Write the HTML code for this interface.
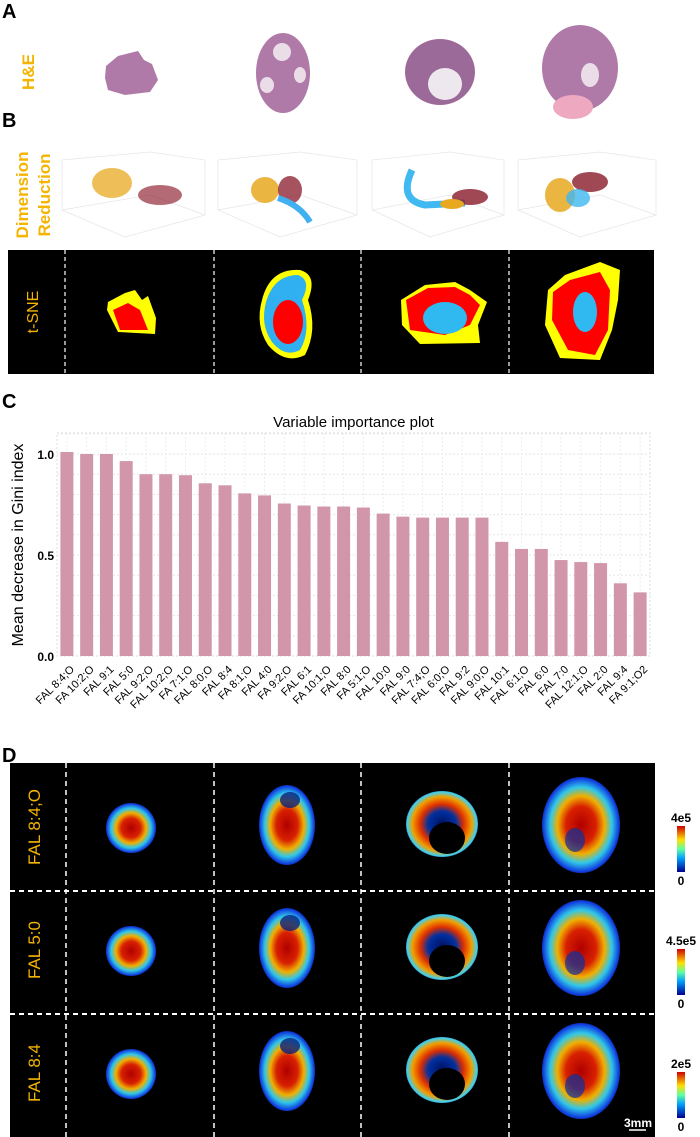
<!DOCTYPE html>
<html><head><meta charset="utf-8"><style>
html,body{margin:0;padding:0;background:#fff;width:700px;height:1137px;overflow:hidden}
svg{display:block;font-family:"Liberation Sans",sans-serif}
</style></head><body>
<svg id="fig" width="700" height="1137" viewBox="0 0 700 1137">
<defs>
<radialGradient id="heat" cx="50%" cy="50%" r="55%">
<stop offset="0" stop-color="#b00000"/><stop offset="0.35" stop-color="#d82000"/><stop offset="0.55" stop-color="#f0b000"/><stop offset="0.72" stop-color="#30c8e8"/><stop offset="0.88" stop-color="#1040e0"/><stop offset="1" stop-color="#000040"/>
</radialGradient>
<radialGradient id="heat2" cx="50%" cy="50%" r="55%">
<stop offset="0" stop-color="#001060"/><stop offset="0.35" stop-color="#0030a0"/><stop offset="0.55" stop-color="#e03000"/><stop offset="0.75" stop-color="#f0a000"/><stop offset="0.88" stop-color="#40d0f0"/><stop offset="1" stop-color="#000040"/>
</radialGradient>
<linearGradient id="cbar" x1="0" y1="1" x2="0" y2="0">
<stop offset="0" stop-color="#00008f"/><stop offset="0.3" stop-color="#00a0ff"/><stop offset="0.5" stop-color="#60ffa0"/><stop offset="0.7" stop-color="#ffe000"/><stop offset="1" stop-color="#d00000"/>
</linearGradient>
</defs>

<!-- Panel A -->
<text x="2" y="18" font-size="20" font-weight="bold">A</text>
<text transform="translate(34,72) rotate(-90)" text-anchor="middle" font-size="17" font-weight="bold" fill="#f5b400">H&amp;E</text>
<g fill="#b07aa8">
<path d="M106,66 L118,56 L138,51 L144,60 L152,64 L158,80 L150,92 L125,95 L108,90 L105,78Z"/>
<ellipse cx="283" cy="73" rx="27" ry="40"/>
<ellipse cx="440" cy="72" rx="35" ry="33" fill="#9c6a98"/>
<ellipse cx="445" cy="84" rx="17" ry="16" fill="#ece8ee"/>
<ellipse cx="580" cy="68" rx="38" ry="43"/>
<ellipse cx="573" cy="107" rx="20" ry="12" fill="#eea8c0"/>
<ellipse cx="282" cy="52" rx="9" ry="9" fill="#eadde8"/><ellipse cx="267" cy="85" rx="7" ry="8" fill="#eadde8"/><ellipse cx="300" cy="75" rx="6" ry="8" fill="#eadde8"/>
<ellipse cx="590" cy="75" rx="9" ry="12" fill="#eadde8"/>
</g>

<!-- Panel B -->
<text x="2" y="127" font-size="20" font-weight="bold">B</text>
<text transform="translate(28,195) rotate(-90)" text-anchor="middle" font-size="17" font-weight="bold" fill="#f5b400">Dimension</text>
<text transform="translate(50,195) rotate(-90)" text-anchor="middle" font-size="17" font-weight="bold" fill="#f5b400">Reduction</text>
<g>
<g><path d="M62,160 L62,210 L125,237 L205,215 M62,210 L150,195 L205,215 M62,160 L150,152 L205,160 L205,215" stroke="#e6e6e6" fill="none" stroke-width="0.7"/>
<ellipse cx="112" cy="183" rx="20" ry="15" fill="#e8a820" opacity="0.75"/><ellipse cx="160" cy="195" rx="22" ry="10" fill="#8a1a2a" opacity="0.65"/></g>
<g><path d="M218,160 L218,210 L280,237 L357,215 M218,210 L300,195 L357,215 M218,160 L300,152 L357,160 L357,215" stroke="#e6e6e6" fill="none" stroke-width="0.7"/>
<ellipse cx="265" cy="190" rx="14" ry="13" fill="#e8a820" opacity="0.85"/><ellipse cx="290" cy="190" rx="12" ry="14" fill="#8a1a2a" opacity="0.75"/><path d="M278,198 Q300,205 310,222" stroke="#40b0f0" stroke-width="6" fill="none"/></g>
<g><path d="M372,160 L372,210 L430,237 L504,215 M372,210 L450,195 L504,215 M372,160 L450,152 L504,160 L504,215" stroke="#e6e6e6" fill="none" stroke-width="0.7"/>
<path d="M412,170 Q398,200 425,205 L465,203" stroke="#40b8f0" stroke-width="7" fill="none"/><ellipse cx="470" cy="197" rx="18" ry="8" fill="#8a1a2a" opacity="0.8"/><ellipse cx="452" cy="204" rx="12" ry="5" fill="#e8a820"/></g>
<g><path d="M518,160 L518,210 L580,237 L656,215 M518,210 L600,195 L656,215 M518,160 L600,152 L656,160 L656,215" stroke="#e6e6e6" fill="none" stroke-width="0.7"/>
<ellipse cx="560" cy="195" rx="15" ry="17" fill="#e8a820" opacity="0.85"/><ellipse cx="590" cy="182" rx="18" ry="10" fill="#8a1a2a" opacity="0.8"/><ellipse cx="578" cy="198" rx="12" ry="9" fill="#40b8f0" opacity="0.8"/></g>
</g>

<rect x="8" y="250" width="646" height="124" fill="#000"/>
<g stroke="#fff" stroke-dasharray="4,3" stroke-width="1.2">
<line x1="65" y1="250" x2="65" y2="374"/><line x1="214" y1="250" x2="214" y2="374"/><line x1="361" y1="250" x2="361" y2="374"/><line x1="509" y1="250" x2="509" y2="374"/>
</g>
<text transform="translate(38,312) rotate(-90)" text-anchor="middle" font-size="16" fill="#f5b400">t-SNE</text>
<g>
<path d="M108,302 L125,293 L135,290 L142,300 L148,296 L156,318 L155,334 L118,332 L107,310Z" fill="#ffff00"/><path d="M113,310 L128,303 L140,310 L148,330 L120,330Z" fill="#f00"/>
<path d="M262,300 Q270,268 300,270 Q318,275 308,300 Q318,330 305,355 Q285,365 268,345 Q255,325 262,300Z" fill="#ffff00"/>
<path d="M266,302 Q274,275 298,275 Q312,280 302,300 Q312,330 300,350 Q285,358 272,342 Q260,325 266,302Z" fill="#30b0f0"/>
<ellipse cx="288" cy="322" rx="15" ry="22" fill="#f00"/>
<path d="M401,300 L425,285 L455,282 L470,290 L487,302 L478,325 L480,343 L420,344 L402,325Z" fill="#ffff00"/>
<path d="M406,300 L428,288 L455,287 L470,295 L480,305 L470,325 L445,335 L410,330Z" fill="#f00"/>
<ellipse cx="445" cy="318" rx="22" ry="16" fill="#30b8f0"/>
<path d="M548,290 L565,275 L600,262 L620,270 L618,300 L612,330 L600,360 L560,358 L545,325Z" fill="#ffff00"/>
<path d="M553,292 L570,280 L600,272 L610,290 L608,330 L595,355 L568,350 L552,320Z" fill="#f00"/>
<ellipse cx="585" cy="312" rx="12" ry="20" fill="#30b8f0"/>
</g>

<!-- Panel C: bar chart -->
<text x="2" y="408" font-size="20" font-weight="bold">C</text>
<g id="chart"></g>

<!-- Panel D -->
<text x="2" y="762" font-size="20" font-weight="bold">D</text>
<rect x="10" y="763" width="645" height="374" fill="#000"/>
<g stroke="#fff" stroke-dasharray="5,4" stroke-width="1.5">
<line x1="66" y1="763" x2="66" y2="1137"/><line x1="214" y1="763" x2="214" y2="1137"/><line x1="361" y1="763" x2="361" y2="1137"/><line x1="509" y1="763" x2="509" y2="1137"/>
<line x1="10" y1="891" x2="655" y2="891" stroke-width="2"/><line x1="10" y1="1014" x2="655" y2="1014" stroke-width="2"/>
</g>
<g id="ion"></g>
<text x="652" y="1127" text-anchor="end" font-size="12" font-weight="bold" fill="#fff">3mm</text>
<line x1="629" y1="1130" x2="646" y2="1130" stroke="#fff" stroke-width="1.5"/>
</svg>
<script>
const NS='http://www.w3.org/2000/svg';
const categories=["FAL 8:4;O","FA 10:2;O","FAL 9:1","FAL 5:0","FAL 9:2;O","FAL 10:2;O","FA 7:1;O","FAL 8:0;O","FAL 8:4","FA 8:1;O","FAL 4:0","FA 9:2;O","FAL 6:1","FA 10:1;O","FAL 8:0","FA 5:1;O","FAL 10:0","FAL 9:0","FAL 7:4;O","FAL 6:0;O","FAL 9:2","FAL 9:0;O","FAL 10:1","FAL 6:1;O","FAL 6:0","FAL 7:0","FAL 12:1;O","FAL 2:0","FAL 9:4","FA 9:1;O2"];
const values=[1.01,1.0,1.0,0.965,0.9,0.9,0.895,0.855,0.845,0.805,0.795,0.755,0.745,0.74,0.74,0.735,0.705,0.69,0.685,0.685,0.685,0.685,0.565,0.53,0.53,0.475,0.465,0.46,0.36,0.315];
const yTicks=[0,0.5,1.0];
const yTickLabels=["0.0","0.5","1.0"];
const ionRows=["FAL 8:4;O","FAL 5:0","FAL 8:4"];
const cbarMax=["4e5","4.5e5","2e5"];

function mk(tag,attrs,parent){const e=document.createElementNS(NS,tag);for(const k in attrs)e.setAttribute(k,attrs[k]);parent.appendChild(e);return e;}
const chart=document.getElementById('chart');
const L=57,R=650,T=433,B=656;
const yScale=v=>B-(v/1.0)*(B-454);
const band=(R-L)/categories.length;
const xScale=i=>L+band*(i+0.5);
mk('rect',{x:L,y:T,width:R-L,height:B-T,fill:'#fff',stroke:'#ddd','stroke-dasharray':'2,2'},chart);
for(let k=1;k<=11;k++){const v=k/10;mk('line',{x1:L,x2:R,y1:yScale(v),y2:yScale(v),stroke:'#e6e6e6','stroke-dasharray':'2,2'},chart);}
for(let i=0;i<categories.length;i++){mk('line',{x1:xScale(i),x2:xScale(i),y1:T,y2:B,stroke:'#ececec','stroke-dasharray':'2,2'},chart);}
const tt=mk('text',{x:(L+R)/2,y:427,'text-anchor':'middle','font-size':15},chart);tt.textContent='Variable importance plot';


const yt=mk('text',{transform:'translate(23,545) rotate(-90)','text-anchor':'middle','font-size':16},chart);yt.textContent='Mean decrease in Gini index';


yTicks.forEach((v,i)=>{const t=mk('text',{x:L-3,y:yScale(v)+5,'text-anchor':'end','font-size':12,'font-weight':'bold'},chart);t.textContent=yTickLabels[i];

});
categories.forEach((c,i)=>{
 const b=mk('rect',{x:xScale(i)-6.5,y:yScale(values[i]),width:13,height:B-yScale(values[i]),fill:'#d296aa'},chart);
 
 
 const t=mk('text',{transform:`translate(${xScale(i)+8},670) rotate(-45)`,'text-anchor':'end','font-size':11},chart);t.textContent=c;
 
 
});

const ion=document.getElementById('ion');
const shapes=[[131,828,25,25,'url(#heat)'],[287,825,28,40,'url(#heat)'],[442,824,36,33,'url(#heat2)'],[581,825,39,48,'url(#heat)']];
ionRows.forEach((name,r)=>{
 const dy=r*123;
 shapes.forEach(s=>{const e=mk('ellipse',{cx:s[0],cy:s[1]+dy,rx:s[2],ry:s[3],fill:s[4]},ion);
 
 });
 mk('ellipse',{cx:447,cy:838+dy,rx:18,ry:16,fill:'#000'},ion);
 mk('ellipse',{cx:290,cy:800+dy,rx:10,ry:8,fill:'#0a2080',opacity:0.8},ion);
 mk('ellipse',{cx:575,cy:840+dy,rx:10,ry:12,fill:'#0a30a0',opacity:0.7},ion);
 const t=mk('text',{transform:`translate(40,${827+dy}) rotate(-90)`,'text-anchor':'middle','font-size':17,fill:'#f5b400'},ion);t.textContent=name;
 
 
 const cb=mk('rect',{x:677,y:826+dy,width:8,height:46,fill:'url(#cbar)'},ion);
 
 
 const mx=mk('text',{x:681,y:822+dy,'text-anchor':'middle','font-size':12,'font-weight':'bold'},ion);mx.textContent=cbarMax[r];
 
 
 const mn=mk('text',{x:681,y:885+dy,'text-anchor':'middle','font-size':12,'font-weight':'bold'},ion);mn.textContent='0';
 
 
});
</script>
</body></html>
